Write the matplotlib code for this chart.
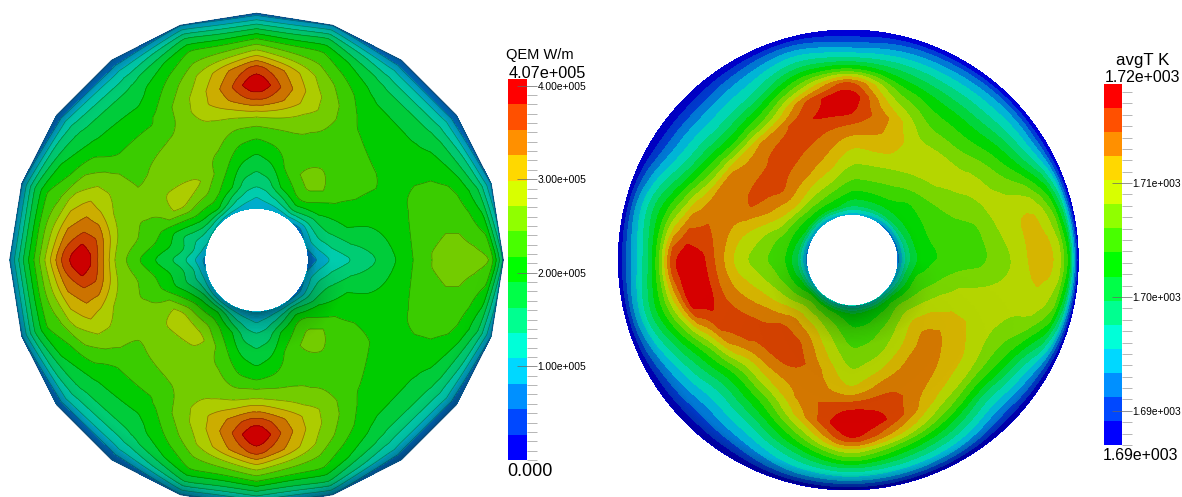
import numpy as np, matplotlib
matplotlib.use("Agg")
import matplotlib.pyplot as plt
from matplotlib.colors import ListedColormap, BoundaryNorm, to_rgb
from matplotlib.patches import Polygon
from matplotlib.ticker import MultipleLocator

plt.rcParams["font.family"] = ["Liberation Sans", "DejaVu Sans"]

# band colours of both scales, low to high
band_colors = ["#0000ff", "#0048ff", "#0090ff", "#00d8ff", "#00ffd8", "#00ff90", "#00ff48", "#00ff00",
               "#48ff00", "#90ff00", "#d8ff00", "#ffd800", "#ff9000", "#ff5000", "#ff0000"]

# QEM: rays [deg], stations [reference units], field read in scale bands (1 band = qem_max/15)
qem_max = 4.07e5
qem_angles = [0, 18, 36, 54, 72, 81, 90, 99, 108, 126, 144, 162, 171, 180, 189, 198, 216, 234, 252, 261, 270, 279, 288, 306, 324, 342]
qem_radii = [155, 190, 230, 290, 350, 420, 490, 530, 580, 620, 660, 700, 740]
qem_bands = [
    [2.2, 3.2, 4.2, 5.0, 5.8, 7.0, 8.4, 9.1, 9.4, 9.5, 9.4, 9.2, 5.0],
    [3.3, 4.8, 5.8, 6.9, 7.1, 7.5, 8.1, 8.4, 8.5, 8.3, 7.4, 5.8, 3.0],
    [2.5, 5.0, 7.0, 8.0, 8.3, 8.2, 7.6, 7.4, 7.1, 6.6, 5.7, 4.2, 2.0],
    [3.5, 6.5, 8.4, 9.8, 8.8, 8.5, 8.1, 7.8, 7.2, 6.6, 5.6, 4.1, 2.0],
    [3.3, 5.0, 7.0, 8.2, 8.6, 9.2, 10.6, 10.6, 9.9, 8.9, 7.9, 6.0, 3.0],
    [3.2, 4.5, 5.6, 6.9, 8.0, 9.4, 12.1, 12.7, 11.9, 9.9, 8.0, 5.7, 2.7],
    [3.2, 4.0, 5.3, 6.4, 7.6, 9.5, 13.6, 15.4, 13.4, 10.7, 8.3, 5.6, 2.5],
    [3.2, 4.5, 5.6, 6.9, 8.0, 9.4, 12.1, 12.7, 11.9, 9.9, 8.0, 5.7, 2.7],
    [3.5, 5.0, 7.0, 8.1, 9.0, 9.7, 10.9, 10.7, 10.0, 9.0, 8.0, 6.0, 3.0],
    [3.5, 7.0, 8.6, 10.1, 9.5, 9.5, 8.1, 7.9, 7.0, 6.5, 5.5, 4.0, 2.0],
    [4.0, 6.5, 8.3, 10.9, 9.7, 8.9, 8.5, 7.9, 7.4, 6.7, 5.8, 4.5, 2.0],
    [4.0, 5.0, 6.0, 7.9, 8.9, 9.3, 10.8, 11.3, 10.4, 8.8, 8.0, 6.0, 3.0],
    [3.5, 5.0, 6.3, 7.6, 8.8, 9.8, 12.8, 13.0, 12.1, 10.3, 8.5, 6.0, 3.0],
    [2.7, 4.2, 5.5, 6.6, 7.9, 9.7, 13.9, 15.4, 13.5, 11.0, 8.5, 6.0, 3.0],
    [3.0, 5.0, 6.3, 7.6, 8.8, 9.8, 12.8, 13.0, 12.1, 10.3, 8.5, 6.0, 3.0],
    [3.5, 5.0, 6.3, 7.9, 8.9, 9.3, 10.8, 11.3, 10.4, 8.8, 8.0, 6.0, 3.0],
    [3.0, 6.3, 8.3, 10.9, 9.7, 9.0, 8.6, 8.0, 7.4, 6.7, 5.8, 4.4, 2.0],
    [3.0, 6.8, 8.6, 10.4, 9.6, 9.5, 8.2, 7.9, 7.0, 6.5, 5.5, 4.0, 2.0],
    [3.2, 5.0, 7.0, 8.1, 9.0, 9.7, 10.9, 10.7, 10.0, 9.0, 8.0, 6.0, 3.0],
    [3.0, 4.5, 5.6, 6.9, 8.0, 9.6, 12.2, 12.7, 11.9, 9.9, 8.0, 5.7, 2.7],
    [3.0, 4.0, 5.3, 6.4, 7.6, 10.2, 14.0, 15.4, 13.4, 10.7, 8.3, 5.6, 2.5],
    [3.0, 4.5, 5.6, 6.9, 8.0, 9.6, 12.2, 12.7, 11.9, 9.9, 8.0, 5.7, 2.7],
    [3.3, 5.0, 7.0, 8.2, 8.6, 9.2, 10.7, 10.6, 9.9, 8.9, 7.9, 6.0, 3.0],
    [3.0, 6.5, 8.4, 9.8, 8.8, 8.5, 8.1, 7.8, 7.2, 6.6, 5.6, 4.1, 2.0],
    [2.5, 5.0, 7.0, 8.0, 8.2, 8.0, 7.6, 7.4, 7.1, 6.6, 5.7, 4.2, 2.0],
    [3.3, 4.8, 5.8, 6.9, 7.1, 7.5, 8.1, 8.4, 8.5, 8.3, 7.4, 5.8, 3.0],
]
qem_ticks = [1e5, 2e5, 3e5, 4e5]
qem_labels = ["1.00e+005", "2.00e+005", "3.00e+005", "4.00e+005"]

# avgT: same idea, scale runs from temp_min to temp_max
temp_min, temp_max = 1687.0, 1718.7
temp_angles = [0, 15, 30, 45, 60, 75, 90, 105, 120, 135, 150, 165, 180, 195, 210, 225, 240, 255, 270, 285, 300, 315, 330, 345]
temp_radii = [137, 165, 200, 240, 290, 340, 390, 440, 490, 530, 550, 570, 600, 630, 660, 690]
temp_bands = [
    [2.5, 5.5, 7.0, 7.8, 8.2, 8.4, 8.6, 9.3, 10.0, 10.9, 11.3, 11.6, 11.6, 10.8, 8.0, 0.0],
    [2.5, 5.5, 7.4, 8.0, 8.3, 8.6, 8.9, 9.9, 10.7, 11.1, 11.2, 11.1, 10.2, 8.6, 5.5, 0.0],
    [2.5, 5.8, 7.5, 8.0, 8.7, 9.5, 10.0, 10.4, 9.6, 8.5, 7.9, 7.2, 5.8, 4.4, 2.6, 0.0],
    [2.5, 6.0, 7.5, 7.9, 9.2, 10.2, 10.7, 9.5, 8.3, 7.3, 6.7, 6.0, 5.0, 3.9, 2.6, 0.0],
    [3.0, 6.0, 7.7, 8.7, 9.7, 10.6, 10.4, 9.4, 8.4, 7.4, 6.8, 6.1, 5.0, 3.8, 2.3, 0.0],
    [3.5, 6.2, 7.7, 8.9, 10.0, 11.2, 12.0, 12.1, 10.3, 8.7, 7.7, 6.8, 5.4, 3.8, 2.2, 0.0],
    [3.5, 6.2, 7.7, 8.9, 10.0, 11.0, 12.4, 14.2, 15.2, 13.8, 11.4, 8.5, 5.5, 3.3, 1.3, 0.0],
    [3.5, 7.0, 8.5, 10.0, 11.5, 12.5, 13.2, 14.1, 13.4, 10.3, 9.0, 7.7, 5.8, 4.2, 2.4, 0.0],
    [3.0, 7.0, 9.0, 10.7, 12.3, 13.1, 13.6, 12.4, 9.1, 7.1, 6.0, 5.1, 4.1, 3.0, 1.7, 0.0],
    [3.0, 7.0, 9.1, 11.5, 13.1, 13.6, 12.6, 11.6, 8.0, 6.0, 5.2, 4.5, 3.5, 2.4, 1.2, 0.0],
    [3.0, 7.0, 8.5, 10.7, 12.2, 13.3, 12.6, 12.3, 9.1, 7.0, 5.9, 5.0, 3.8, 2.6, 1.3, 0.0],
    [2.5, 6.5, 8.2, 9.1, 10.3, 11.3, 12.4, 12.9, 12.3, 10.0, 9.0, 7.9, 6.5, 4.8, 3.0, 0.0],
    [2.5, 6.0, 7.9, 8.7, 9.5, 10.4, 12.3, 14.2, 15.0, 14.2, 11.8, 9.0, 6.0, 4.1, 2.4, 0.0],
    [3.0, 6.5, 8.3, 9.5, 10.7, 11.7, 12.8, 14.6, 15.0, 11.4, 10.0, 8.6, 7.0, 5.2, 3.2, 0.0],
    [3.5, 7.5, 9.0, 10.5, 12.0, 13.0, 13.7, 12.9, 9.5, 7.5, 6.6, 5.8, 4.4, 3.1, 1.7, 0.0],
    [4.0, 8.5, 10.2, 12.0, 13.4, 13.7, 12.4, 10.0, 7.5, 5.8, 5.0, 4.3, 3.3, 2.3, 1.3, 0.0],
    [4.0, 8.0, 9.9, 11.5, 13.0, 13.7, 12.5, 11.0, 8.6, 7.0, 6.1, 5.3, 4.1, 2.9, 1.6, 0.0],
    [4.0, 7.8, 9.0, 10.0, 11.0, 12.0, 12.5, 12.9, 12.2, 10.0, 8.9, 7.8, 6.0, 4.5, 2.8, 0.0],
    [4.0, 7.2, 7.9, 8.5, 9.3, 10.0, 11.0, 13.7, 15.6, 14.6, 13.2, 11.0, 8.5, 5.5, 3.2, 0.0],
    [4.0, 7.5, 8.0, 8.8, 9.7, 10.9, 12.5, 13.7, 13.8, 12.0, 10.7, 9.0, 7.0, 5.0, 3.0, 0.0],
    [4.0, 7.5, 8.5, 9.7, 10.7, 12.0, 12.8, 12.0, 11.0, 9.6, 8.6, 7.6, 6.0, 4.4, 2.6, 0.0],
    [4.0, 7.5, 9.3, 10.6, 12.0, 12.6, 11.9, 11.3, 10.0, 8.0, 7.0, 5.7, 4.4, 3.0, 1.6, 0.0],
    [3.5, 6.5, 8.5, 9.7, 10.8, 11.2, 11.1, 10.5, 9.6, 8.6, 8.0, 7.1, 5.5, 4.0, 2.4, 0.0],
    [3.0, 6.0, 8.1, 8.6, 9.4, 10.1, 10.3, 10.4, 10.4, 10.4, 10.5, 10.5, 9.9, 8.8, 5.5, 0.0],
]
temp_ticks = [1690, 1700, 1710]
temp_labels = ["1.69e+003", "1.70e+003", "1.71e+003"]

# surface lighting, read as how much darker than the flat colour
shade_angles = [0, 45, 90, 135, 180, 215, 270, 325]
qem_shade_radii = [155, 180, 225, 280, 650, 700, 740]
qem_shade = [
    [0.30, 0.08, 0.00, 0.00, 0.00, 0.00, 0.10],
    [0.05, 0.02, 0.00, 0.00, 0.00, 0.05, 0.25],
    [0.00, 0.00, 0.00, 0.00, 0.00, 0.05, 0.15],
    [0.05, 0.02, 0.00, 0.00, 0.00, 0.05, 0.30],
    [0.12, 0.05, 0.00, 0.00, 0.00, 0.05, 0.25],
    [0.25, 0.22, 0.12, 0.00, 0.00, 0.08, 0.30],
    [0.45, 0.20, 0.05, 0.00, 0.00, 0.10, 0.45],
    [0.25, 0.22, 0.12, 0.00, 0.00, 0.08, 0.35],
]
temp_shade_radii = [137, 165, 210, 260, 640, 690]
temp_shade = [
    [0.25, 0.05, 0.00, 0.00, 0.00, 0.05],
    [0.10, 0.02, 0.00, 0.00, 0.00, 0.00],
    [0.00, 0.00, 0.00, 0.00, 0.00, 0.00],
    [0.10, 0.03, 0.00, 0.00, 0.00, 0.10],
    [0.18, 0.06, 0.02, 0.00, 0.00, 0.12],
    [0.30, 0.20, 0.10, 0.02, 0.00, 0.20],
    [0.45, 0.28, 0.12, 0.03, 0.00, 0.40],
    [0.30, 0.20, 0.10, 0.02, 0.00, 0.28],
]


def refine(angles, radii, table, smooth=0):
    # resample a ray table on a 1 degree / fine radial mesh so the rendering is not faceted
    a = np.r_[np.asarray(angles, float) - 360, angles, np.asarray(angles, float) + 360]
    t = np.vstack([table, table, table])
    th = np.arange(0.0, 360.0)
    rr = np.linspace(radii[0], radii[-1], 140)
    by_ray = np.array([np.interp(th, a, t[:, j]) for j in range(len(radii))]).T
    if smooth:
        k = np.ones(2 * smooth + 1) / (2 * smooth + 1)
        by_ray = np.array([np.convolve(np.r_[c[-smooth:], c, c[:smooth]], k, "valid") for c in by_ray.T]).T
    Z = np.array([np.interp(rr, radii, row) for row in by_ray])
    return th, rr, np.vstack([Z, Z[:1]])


def ring_grid(th, rr, centre, rim_shift=0.0, sides=None):
    # curvilinear mesh of the annulus in pixel coordinates, wrapped once round
    t = np.deg2rad(np.r_[th, 360.0])
    s = (rr - rr[0]) / (rr[-1] - rr[0])
    T, S = np.meshgrid(t, s, indexing="ij")
    R = rr[0] + S * (rr[-1] - rr[0])
    if sides:  # outer edge is a polygon with a corner on every 360/sides degrees
        step = 2 * np.pi / sides
        poly = np.cos(step / 2) / np.cos((T % step) - step / 2)
        R = rr[0] + S * (rr[-1] * poly - rr[0])
    X = centre[0] + (rim_shift * S + R * np.cos(T)) / 3
    Y = centre[1] - R * np.sin(T) / 3
    return X, Y


def draw_shade(ax, radii, table, centre, outline):
    # lighting as one black image with varying alpha, clipped to the outer edge
    th, rr, Z = refine(shade_angles, radii, table)
    x0, x1 = int(outline[0].min()) - 2, int(outline[0].max()) + 3
    y0, y1 = int(outline[1].min()) - 2, int(outline[1].max()) + 3
    px, py = np.meshgrid(np.arange(x0, x1) + 0.5, np.arange(y0, y1) + 0.5)
    r = np.hypot(px - centre[0], py - centre[1]) * 3
    a = np.degrees(np.arctan2(centre[1] - py, px - centre[0])) % 360
    i = np.round(a).astype(int) % 360
    j = np.clip(((r - rr[0]) / (rr[1] - rr[0])).round().astype(int), 0, len(rr) - 1)
    rgba = np.zeros(px.shape + (4,))
    rgba[..., 3] = np.where(r < rr[0], 0.0, Z[i, j])
    im = ax.imshow(rgba, extent=(x0, x1, y1, y0), interpolation="nearest", aspect="auto", zorder=3)
    im.set_clip_path(Polygon(np.c_[outline[0], outline[1]], transform=ax.transData))


def draw_bar(fig, box, levels, ticks, labels, minor):
    w, h = 1182.0, 497.0
    cax = fig.add_axes([box[0] / w, 1 - box[3] / h, (box[2] - box[0]) / w, (box[3] - box[1]) / h])
    cmap = ListedColormap(band_colors)
    cax.pcolormesh([0, 1], levels, np.arange(15)[:, None], cmap=cmap, norm=BoundaryNorm(np.arange(-0.5, 15.5), 15))
    cax.set_xticks([])
    cax.yaxis.tick_right()
    cax.set_yticks(ticks)
    cax.set_yticklabels(labels)
    cax.yaxis.set_minor_locator(MultipleLocator(minor))
    cax.tick_params(which="major", direction="inout", length=14.4, width=0.5, color="#666666", labelsize=7.4, pad=0.5)
    cax.tick_params(which="minor", direction="out", length=7, width=0.6, color="#aaaaaa")
    for sp in cax.spines.values():
        sp.set_visible(False)
    return cax


def main():
    fig = plt.figure(figsize=(11.82, 4.97), dpi=100)
    ax = fig.add_axes([0, 0, 1, 1])
    ax.axis("off")

    qem_levels = np.linspace(0, qem_max, 16)
    temp_levels = np.linspace(temp_min, temp_max, 16)

    flat_l = [tuple(0.8 * c for c in to_rgb(b)) for b in band_colors]
    flat_r = [tuple(0.84 * c for c in to_rgb(b)) for b in band_colors]

    th, rr, Z = refine(qem_angles, qem_radii, np.array(qem_bands), smooth=2)
    X, Y = ring_grid(th, rr, (256.5, 260), sides=20)
    Q = Z * qem_max / 15
    ax.contourf(X, Y, Q, levels=qem_levels, colors=flat_l, extend="both")
    ax.contour(X, Y, Q, levels=qem_levels[1:-1], colors="k", linewidths=0.5, alpha=0.35)
    draw_shade(ax, qem_shade_radii, np.array(qem_shade), (256.5, 260), (X[:, -1], Y[:, -1]))
    ax.plot(X[:, -1], Y[:, -1], color="#10507c", lw=0.8, zorder=4)

    th, rr, Z = refine(temp_angles, temp_radii, np.array(temp_bands), smooth=4)
    X, Y = ring_grid(th, rr, (852.3, 260), rim_shift=-12)
    T = temp_min + Z * (temp_max - temp_min) / 15
    ax.contourf(X, Y, T, levels=temp_levels, colors=flat_r, extend="both")
    draw_shade(ax, temp_shade_radii, np.array(temp_shade), (852.3, 260), (X[:, -1], Y[:, -1]))

    ax.set_xlim(0, 1182)
    ax.set_ylim(497, 0)

    draw_bar(fig, (508, 79, 527, 460), qem_levels, qem_ticks, qem_labels, 1e4)
    draw_bar(fig, (1104, 84, 1122, 445), temp_levels, temp_ticks, temp_labels, 1)

    ax.text(540, 55, "QEM W/m", ha="center", va="center", fontsize=10.5)
    ax.text(547, 73, "4.07e+005", ha="center", va="center", fontsize=11.7)
    ax.text(530, 471, "0.000", ha="center", va="center", fontsize=13)
    ax.text(1143, 60, "avgT K", ha="center", va="center", fontsize=12.2)
    ax.text(1142.5, 78, "1.72e+003", ha="center", va="center", fontsize=11.4)
    ax.text(1141, 456, "1.69e+003", ha="center", va="center", fontsize=11.4)

    fig.savefig("out.png", dpi=100)
    plt.close(fig)


if __name__ == "__main__":
    main()
